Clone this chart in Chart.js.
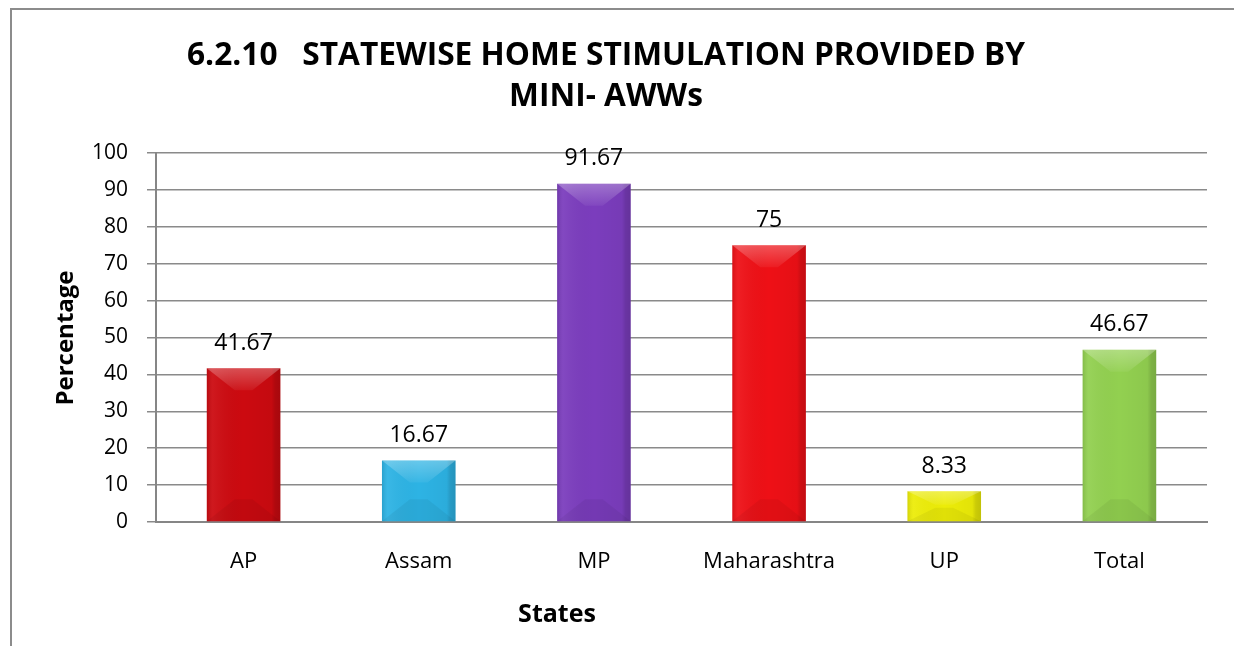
<!DOCTYPE html>
<html>
<head>
<meta charset="utf-8">
<script src="https://cdn.jsdelivr.net/npm/chart.js@4"></script>
<style>
  html, body { margin: 0; padding: 0; background: #fff; }
  #wrap { width: 1234px; height: 646px; position: relative; }
</style>
</head>
<body>
<div id="wrap"><canvas id="grafik" width="1234" height="646"></canvas></div>
<script>
// data
const states = ['AP', 'Assam', 'MP', 'Maharashtra', 'UP', 'Total'];
const percentages = [41.67, 16.67, 91.67, 75, 8.33, 46.67];
const yMin = 0;
const yMax = 100;
const yStep = 10;
const titleLines = ['6.2.10   STATEWISE HOME STIMULATION PROVIDED BY', 'MINI- AWWs'];
const yTitle = 'Percentage';
const xTitle = 'States';

const barColors = ['#cc0a10', '#2db3e4', '#7b3dbd', '#ee1016', '#ecec08', '#92d050'];
const FONT = '"Open Sans", sans-serif';

// frame, titles and axis titles
const decor = {
  id: 'decor',
  beforeDraw(chart) {
    const ctx = chart.ctx;
    ctx.save();
    ctx.strokeStyle = '#8c8c8c';
    ctx.lineWidth = 2;
    ctx.beginPath();
    ctx.moveTo(11, 646);
    ctx.lineTo(11, 9);
    ctx.lineTo(1234, 9);
    ctx.stroke();
    ctx.restore();
  },
  afterDraw(chart) {
    const ctx = chart.ctx;
    ctx.save();
    ctx.fillStyle = '#000';
    ctx.textAlign = 'center';
    ctx.textBaseline = 'alphabetic';
    // title, squeezed to the width it has in the picture
    ctx.font = 'bold 33px ' + FONT;
    const w1 = ctx.measureText(titleLines[0]).width;
    const sx = Math.min(1, 838 / w1);
    ctx.save();
    ctx.translate(606, 0);
    ctx.scale(sx, 1);
    ctx.fillText(titleLines[0], 0, 65);
    ctx.fillText(titleLines[1], 0, 106);
    ctx.restore();

    ctx.font = 'bold 25px ' + FONT;
    ctx.fillText(xTitle, 557, 622);

    ctx.save();
    ctx.translate(73, 338);
    ctx.rotate(-Math.PI / 2);
    ctx.font = 'bold 24px ' + FONT;
    ctx.fillText(yTitle, 0, 0);
    ctx.restore();
    ctx.restore();
  }
};

// soft bevel look + value labels
const bevel = {
  id: 'bevel',
  afterDatasetsDraw(chart) {
    const ctx = chart.ctx;
    const meta = chart.getDatasetMeta(0);
    ctx.save();
    meta.data.forEach((bar, i) => {
      const { x, y, base, width } = bar.getProps(['x', 'y', 'base', 'width'], true);
      const L = x - width / 2, R = x + width / 2, T = y, B = base;
      const h = B - T;
      const d = Math.min(width * 0.3, h * 0.45);

      // side shading across the bar
      const g = ctx.createLinearGradient(L, 0, R, 0);
      g.addColorStop(0, 'rgba(0,0,0,0.10)');
      g.addColorStop(0.08, 'rgba(255,255,255,0.06)');
      g.addColorStop(0.5, 'rgba(0,0,0,0)');
      g.addColorStop(0.88, 'rgba(0,0,0,0.04)');
      g.addColorStop(0.93, 'rgba(0,0,0,0.14)');
      g.addColorStop(1, 'rgba(0,0,0,0.18)');
      ctx.fillStyle = g;
      ctx.fillRect(L, T, width, h);

      // light chevron at the top
      const tg = ctx.createLinearGradient(0, T, 0, T + d);
      tg.addColorStop(0, 'rgba(255,255,255,0.28)');
      tg.addColorStop(1, 'rgba(255,255,255,0.05)');
      ctx.fillStyle = tg;
      ctx.beginPath();
      ctx.moveTo(L, T); ctx.lineTo(R, T);
      ctx.lineTo(x + width * 0.12, T + d); ctx.lineTo(x - width * 0.12, T + d);
      ctx.closePath(); ctx.fill();

      // faint darker chevron at the bottom
      ctx.fillStyle = 'rgba(0,0,0,0.05)';
      ctx.beginPath();
      ctx.moveTo(L, B); ctx.lineTo(R, B);
      ctx.lineTo(x + width * 0.12, B - d); ctx.lineTo(x - width * 0.12, B - d);
      ctx.closePath(); ctx.fill();

      ctx.fillStyle = '#000';
      ctx.font = '23px ' + FONT;
      ctx.textAlign = 'center';
      ctx.textBaseline = 'middle';
      ctx.fillText(String(percentages[i]), x, T - 25);
    });
    ctx.restore();
  }
};

new Chart(document.getElementById('grafik').getContext('2d'), {
  type: 'bar',
  data: {
    labels: states,
    datasets: [{
      data: percentages,
      backgroundColor: barColors,
      borderWidth: 0,
      categoryPercentage: 1,
      barPercentage: 0.42
    }]
  },
  options: {
    responsive: false,
    animation: false,
    events: [],
    layout: { padding: { left: 0, right: 27, top: 153, bottom: 0 } },
    plugins: { legend: { display: false }, tooltip: { enabled: false } },
    scales: {
      x: {
        grid: { display: false, drawTicks: false },
        border: { color: '#868686', width: 2 },
        ticks: { color: '#000', font: { family: FONT, size: 22 }, padding: 27, maxRotation: 0 },
        afterFit(s) { s.height = 124; }
      },
      y: {
        min: yMin,
        max: yMax,
        grid: { color: '#8a8a8a', lineWidth: 1.5, tickLength: 9 },
        border: { color: '#868686', width: 2 },
        ticks: { stepSize: yStep, color: '#000', font: { family: FONT, size: 21 }, padding: 19 },
        afterFit(s) { s.width = 156; }
      }
    }
  },
  plugins: [decor, bevel]
});
</script>
</body>
</html>
